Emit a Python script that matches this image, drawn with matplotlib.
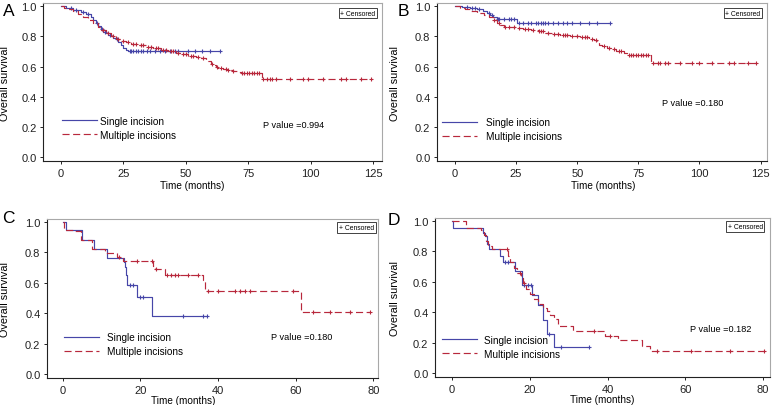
import numpy as np
import matplotlib

matplotlib.use("Agg")
import matplotlib.pyplot as plt
from matplotlib.lines import Line2D

plt.rcParams["font.family"] = ["Liberation Sans", "DejaVu Sans"]

# ---- panel A: survival after each event (time, S) ----
a_single_t = [2, 5, 8, 10, 12, 13, 14, 15, 16, 17, 18, 19, 20, 21, 22, 23, 24, 25, 26, 27]
a_single_s = [0.99, 0.975, 0.96, 0.945, 0.93, 0.91, 0.89, 0.87, 0.85, 0.83, 0.82, 0.81,
              0.80, 0.79, 0.78, 0.765, 0.745, 0.725, 0.71, 0.704]
a_single_end = 63.5
a_single_cens = [4, 6, 9, 11, 14.5, 16.5, 17.5, 19.5, 22.5, 27.5, 28, 29, 30, 31, 32, 33,
                 34.3, 35.7, 37.7, 39.7, 41.7, 43.7, 45.7, 47, 51, 53.7, 56.4, 59.7, 63.5]

a_multi_t = [1, 3, 5, 7, 9, 11, 13, 15, 16, 18, 20, 22, 24, 26, 28, 31, 34, 37, 40, 43,
             46, 48, 51, 54, 56, 58, 59, 60, 61, 62, 63, 65, 67, 69, 71, 72, 80.5]
a_multi_s = [0.99, 0.98, 0.965, 0.95, 0.925, 0.905, 0.885, 0.86, 0.84, 0.82, 0.80, 0.785,
             0.77, 0.76, 0.75, 0.74, 0.73, 0.72, 0.71, 0.70, 0.69, 0.68, 0.67, 0.665, 0.655,
             0.645, 0.635, 0.62, 0.61, 0.60, 0.59, 0.585, 0.58, 0.57, 0.565, 0.56, 0.52]
a_multi_end = 124.5
a_multi_cens = [17, 19, 21, 23, 25, 27, 29, 30, 32, 33, 35, 36, 38, 39, 41, 42, 44, 45, 47,
                49, 50, 52, 53, 55, 57, 60.5, 62.5, 64, 66, 67, 69, 72.5, 73.5, 74.5, 75.5,
                76.5, 77.5, 78.5, 79.5, 81.1, 82.6, 83.7, 84.7, 86.3, 91.6, 97, 99, 105,
                112.3, 114.3, 120.3, 124.3]

# ---- panel B ----
b_single_t = [3, 6, 9, 11.5, 13, 14.3, 15.5, 17, 25.2]
b_single_s = [0.995, 0.99, 0.98, 0.97, 0.955, 0.94, 0.925, 0.912, 0.89]
b_single_end = 63.3
b_single_cens = [5, 7, 8, 10, 14, 15, 17.5, 18, 20, 22, 23, 24, 26, 28, 30, 31, 33, 34, 35,
                 36, 37, 38, 40, 42, 44, 46, 48, 51, 55, 58, 63.3]

b_multi_t = [2, 4, 6, 9, 12, 14, 15.5, 17, 18.5, 20, 25, 28, 31, 34, 37, 40, 43, 47, 51,
             55, 57, 58, 59, 60, 62, 64, 66, 69, 70.5, 80]
b_multi_s = [0.99, 0.98, 0.97, 0.955, 0.94, 0.925, 0.91, 0.89, 0.875, 0.86, 0.855, 0.85,
             0.84, 0.833, 0.825, 0.815, 0.81, 0.805, 0.795, 0.785, 0.775, 0.76, 0.745,
             0.735, 0.725, 0.715, 0.705, 0.69, 0.675, 0.625]
b_multi_end = 124
b_multi_cens = [16, 18, 20.5, 22, 24, 26, 28.5, 30, 32, 34.5, 35, 36, 38, 40.5, 42, 44,
                45, 46, 48, 50, 52, 53, 54, 56, 57.5, 61, 63, 65, 67, 68, 71, 72, 73, 74,
                75, 76, 77, 78, 79, 81, 83, 84, 86, 87, 92, 97, 100, 105, 112, 114, 120, 123]

# ---- panel C ----
c_single_t = [0.8, 4.8, 8, 11.3, 15.8, 16.1, 16.3, 16.6, 19, 23.1]
c_single_s = [0.944, 0.883, 0.823, 0.764, 0.735, 0.705, 0.65, 0.588, 0.504, 0.379]
c_single_end = 37.2
c_single_cens = [17.3, 18.1, 19.9, 20.7, 31, 36, 37.2]

c_multi_t = [0.3, 2.7, 4.6, 7.4, 10.8, 13.9, 15.6, 23.3, 23.8, 26.3, 36.2, 36.6, 61.3]
c_multi_s = [0.948, 0.937, 0.88, 0.825, 0.797, 0.77, 0.742, 0.71, 0.688, 0.651, 0.62,
             0.543, 0.407]
c_multi_end = 79.2
c_multi_cens = [14.5, 19, 23, 24, 26.8, 28, 28.9, 29.8, 32.3, 34.9, 37.5, 40.1, 44.4,
                45.7, 47, 48.3, 59.4, 64.6, 68.9, 74.1, 79.2]

# ---- panel D ----
d_single_t = [0.17, 7.9, 8.5, 8.9, 9.4, 12.4, 13.2, 16.2, 17.9, 20.5, 22.2, 23.5, 24.3, 26.1]
d_single_s = [0.955, 0.92, 0.9, 0.845, 0.815, 0.77, 0.727, 0.673, 0.576, 0.512, 0.447,
              0.35, 0.26, 0.17]
d_single_end = 35.2
d_single_cens = [13.6, 14.3, 18.5, 19.5, 20.4, 24.9, 28, 35.2]

d_multi_t = [3.7, 7.5, 8.2, 8.8, 9.3, 10.3, 14.5, 14.9, 15.8, 16.8, 17.6, 18.3, 19.0, 20.1,
             21.0, 22.0, 23.5, 24.3, 25.3, 26.2, 27.3, 31.2, 39.4, 42.8, 48.8, 50.9]
d_multi_s = [0.955, 0.94, 0.905, 0.87, 0.835, 0.815, 0.77, 0.73, 0.69, 0.66, 0.625, 0.59,
             0.555, 0.52, 0.49, 0.455, 0.43, 0.41, 0.38, 0.355, 0.307, 0.28, 0.247, 0.217,
             0.178, 0.146]
d_multi_end = 80.3
d_multi_cens = [14.2, 17.5, 18.5, 36.4, 40.6, 52.7, 61.5, 71.5, 80.3]

p_values = ["0.994", "0.180", "0.180", "0.182"]
panel_letters = ["A", "B", "C", "D"]
x_ticks_long = [0, 25, 50, 75, 100, 125]
x_ticks_short = [0, 20, 40, 60, 80]
y_ticks = [0.0, 0.2, 0.4, 0.6, 0.8, 1.0]

BLUE = "#4646a8"
RED = "#b8283c"
DASH = (0, (6, 3))


def km(ax, t, s, end, cens, color, dashed):
    tt = np.concatenate([[0.0], t, [end]])
    ss = np.concatenate([[1.0], s, [s[-1]]])
    ax.step(tt, ss, where="post", color=color, lw=0.85, ls=DASH if dashed else "-")
    idx = np.searchsorted(tt, cens, side="right") - 1
    ax.plot(cens, ss[idx], ls="none", marker="+", ms=3.5, mew=0.8, color=color)


fig = plt.figure(figsize=(7.74, 4.06), dpi=100)

panels = [
    dict(rect=[0.0556, 0.601, 0.438, 0.389], xlim=(-7.2, 128.6), xt=x_ticks_long,
         single=(a_single_t, a_single_s, a_single_end, a_single_cens),
         multi=(a_multi_t, a_multi_s, a_multi_end, a_multi_cens),
         leg=(0.056, 0.285, 0.3), pv=(0.649, 0.228), xl=(0.44, -0.12), yl=-0.097,
         cens=(0.988, 0.981), letter=(9, 12)),
    dict(rect=[0.5646, 0.601, 0.426, 0.389], xlim=(-7.35, 127.5), xt=x_ticks_long,
         single=(b_single_t, b_single_s, b_single_end, b_single_cens),
         multi=(b_multi_t, b_multi_s, b_multi_end, b_multi_cens),
         leg=(0.015, 0.278, 0.9), pv=(0.682, 0.373), xl=(0.503, -0.12), yl=-0.112,
         cens=(0.988, 0.981), letter=(403, 12)),
    dict(rect=[0.0607, 0.0665, 0.428, 0.392], xlim=(-4.1, 81.3), xt=x_ticks_short,
         single=(c_single_t, c_single_s, c_single_end, c_single_cens),
         multi=(c_multi_t, c_multi_s, c_multi_end, c_multi_cens),
         leg=(0.051, 0.289, 0.8), pv=(0.677, 0.258), xl=(0.41, -0.105), yl=-0.112,
         cens=(0.994, 0.99), letter=(8, 219)),
    dict(rect=[0.562, 0.069, 0.433, 0.392], xlim=(-4.4, 81.8), xt=x_ticks_short,
         single=(d_single_t, d_single_s, d_single_end, d_single_cens),
         multi=(d_multi_t, d_multi_s, d_multi_end, d_multi_cens),
         leg=(0.021, 0.264, 0.7), pv=(0.761, 0.302), xl=(0.50, -0.105), yl=-0.104,
         cens=(0.985, 0.99), letter=(394, 221)),
]

for i, p in enumerate(panels):
    ax = fig.add_axes(p["rect"])
    km(ax, *p["single"], BLUE, False)
    km(ax, *p["multi"], RED, True)
    ax.set_xlim(*p["xlim"])
    ax.set_ylim(-0.025, 1.02)
    ax.set_xticks(p["xt"])
    ax.set_yticks(y_ticks)
    ax.set_yticklabels([f"{v:.1f}" for v in y_ticks])
    ax.tick_params(direction="out", length=2.2, width=0.7, pad=2.5, labelsize=8,
                   colors="#222222")
    for side in ("left", "bottom"):
        ax.spines[side].set_color("#222222")
        ax.spines[side].set_linewidth(0.8)
    for side in ("top", "right"):
        ax.spines[side].set_color("#a8a8a8")
        ax.spines[side].set_linewidth(0.8)
    ax.set_xlabel("Time (months)", fontsize=7.2)
    ax.xaxis.set_label_coords(*p["xl"])
    ax.set_ylabel("Overall survival", fontsize=7.8)
    ax.yaxis.set_label_coords(p["yl"], 0.5)

    handles = [Line2D([], [], color=BLUE, lw=0.85),
               Line2D([], [], color=RED, lw=0.85, ls=DASH)]
    lx, ly, pad = p["leg"]
    ax.legend(handles, ["Single incision", "Multiple incisions"], loc="upper left",
              bbox_to_anchor=(lx, ly), frameon=False, fontsize=7.2, borderpad=0,
              borderaxespad=0, handlelength=3.5, handletextpad=pad, labelspacing=0.4)
    ax.text(p["pv"][0], p["pv"][1], f"P value ={p_values[i]}", transform=ax.transAxes,
            fontsize=6.6, va="center", ha="left")
    cx, cy = p["cens"]
    ax.text(cx - 0.007, cy - 0.022, "+ Censored", transform=ax.transAxes, fontsize=4.9,
            ha="right", va="top",
            bbox=dict(boxstyle="square,pad=0.25", fc="white", ec="#222222", lw=0.6))
    lxp, lyp = p["letter"]
    fig.text(lxp / 774, 1 - lyp / 406, panel_letters[i], fontsize=12.5, ha="center",
             va="center")

fig.savefig("out.png", dpi=100)
